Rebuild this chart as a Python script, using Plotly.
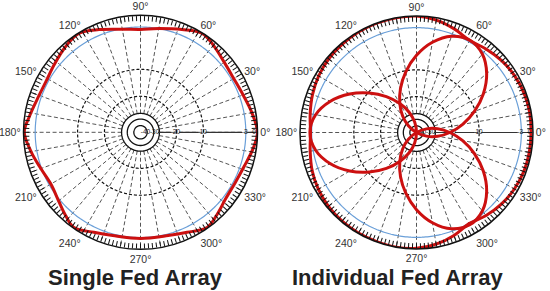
import numpy as np
import plotly.graph_objects as go

# ---- radial scale calibration (dB -> normalized radius, read from the rings) ----
SCALE_DB = [-50, -40, -30, -20, -10, -3, 0]
SCALE_R = [0.0, 0.057, 0.113, 0.308, 0.538, 0.90, 1.0]

RADIAL_TICKS = [-40, -30, -20, -10, -3, 0]
RADIAL_LABELS = ["-40", "-30", "-20", "-10", "-3", "0"]
SOLID_RINGS = [-40, -30, -27.5]
DASHED_RINGS = [-20, -10]
HALF_POWER_RING = -3
ANGLE_LABEL_STEP = 30
ANGLE_TICK_STEP = 2
SPOKE_STEP = 10

TITLES = ["Single Fed Array", "Individual Fed Array"]

# ---- Single fed array pattern (deg, dB) ----
single_theta = [0, 10, 20, 30, 40, 50, 58, 68, 80, 90, 100, 112, 122, 132, 142, 152, 162, 172,
                180, 190, 200, 210, 220, 228, 235, 245, 255, 270, 285, 295, 305, 313, 322, 332,
                342, 352, 360]
single_db = [0.0, -1.0, -2.0, -2.4, -2.0, -0.9, -0.1, -1.6, -3.0, -3.4, -3.1, -1.6, -0.1, -0.9,
             -1.9, -2.5, -2.2, -1.2, -0.2, -1.5, -2.8, -3.3, -2.6, -1.3, -0.2, -1.7, -2.6, -2.8,
             -2.6, -1.7, -0.2, -1.2, -2.3, -2.5, -2.0, -0.8, 0.0]

# ---- Individual fed array: overall envelope (deg, dB) ----
env_theta = [0, 10, 20, 30, 40, 50, 60, 70, 80, 90, 100, 110, 120, 130, 140, 150, 160, 170,
             180, 190, 200, 210, 220, 230, 240, 250, 260, 270, 280, 290, 300, 310, 320, 330,
             340, 350, 360]
env_db = [-0.5, -0.4, -0.5, -0.8, -1.3, -2.0, -2.6, -1.6, -0.6, 0.0, 0.0, 0.0, -0.1, -0.3,
          -0.5, -0.9, -1.5, -2.2, -2.7, -2.2, -1.4, -0.8, -0.4, -0.2, -0.1, -0.1, 0.0, -0.2,
          -0.8, -1.8, -2.9, -2.1, -1.4, -0.9, -0.6, -0.5, -0.5]

# ---- Individual fed array: single element lobe (offset from lobe axis, dB) ----
lobe_offsets = [-90, -80, -70, -60, -50, -40, -30, -20, -10, 0, 10, 20, 30, 40, 50, 60, 70, 80, 90]
lobe_db = [-50, -34, -26.3, -21.1, -15.9, -10.4, -7.6, -5.2, -3.4, -2.55, -3.4, -5.2, -7.6,
           -10.4, -15.9, -21.1, -26.3, -34, -50]
lobe_axes = [60, 180, 300]

RED = "#cc1010"
BLUE = "#6a9fd8"
FONT = "Liberation Sans, Arial, sans-serif"


def rad(db):
    return np.interp(np.asarray(db, float), SCALE_DB, SCALE_R)


fig = go.Figure()
ring_theta = np.linspace(0, 360, 361)
spoke_r0 = float(rad(SOLID_RINGS[-1]))


def add_grid(sub):
    # radial spokes
    th, rr = [], []
    for a in range(0, 360, SPOKE_STEP):
        th += [a, a, None]
        rr += [spoke_r0, 1.0, None]
    fig.add_trace(go.Scatterpolar(theta=th, r=rr, mode="lines", subplot=sub,
                                  line=dict(color="#555555", width=1, dash="4px,2.5px"),
                                  hoverinfo="skip"))
    for db in DASHED_RINGS:
        fig.add_trace(go.Scatterpolar(theta=ring_theta, r=np.full(ring_theta.size, rad(db)),
                                      mode="lines", subplot=sub, hoverinfo="skip",
                                      line=dict(color="#111111", width=1.2, dash="3px,2px")))
    for db in SOLID_RINGS:
        fig.add_trace(go.Scatterpolar(theta=ring_theta, r=np.full(ring_theta.size, rad(db)),
                                      mode="lines", subplot=sub, hoverinfo="skip",
                                      line=dict(color="#111111", width=1.3)))
    fig.add_trace(go.Scatterpolar(theta=ring_theta, r=np.full(ring_theta.size, rad(HALF_POWER_RING)),
                                  mode="lines", subplot=sub, hoverinfo="skip",
                                  line=dict(color=BLUE, width=1.2)))
    # radial axis line with gaps for the labels
    lab_r = rad(RADIAL_TICKS) - 0.01
    lab_r[0] -= 0.004
    lab_r[1] += 0.018
    lab_r[-1] = 0.97
    hw = [0.028, 0.028, 0.033, 0.033, 0.022, 0.016]
    th, rr = [], []
    for i in range(1, len(lab_r) - 1):
        th += [0, 0, None]
        rr += [lab_r[i] + hw[i], lab_r[i + 1] - hw[i + 1], None]
    fig.add_trace(go.Scatterpolar(theta=th, r=rr, mode="lines", subplot=sub, hoverinfo="skip",
                                  line=dict(color="#333333", width=1.2)))
    fig.add_trace(go.Scatterpolar(theta=[0] * len(lab_r), r=lab_r, mode="text", subplot=sub,
                                  text=RADIAL_LABELS, textposition="middle center",
                                  textfont=dict(size=6.5, color="#222222", family=FONT),
                                  hoverinfo="skip"))


add_grid("polar")
add_grid("polar2")

fig.add_trace(go.Scatterpolar(theta=single_theta, r=rad(single_db), mode="lines", subplot="polar",
                              line=dict(color=RED, width=3, shape="spline"), hoverinfo="skip"))

for ax in lobe_axes:
    fig.add_trace(go.Scatterpolar(theta=[ax + o for o in lobe_offsets], r=rad(lobe_db),
                                  mode="lines", subplot="polar2",
                                  line=dict(color=RED, width=3, shape="spline"), hoverinfo="skip"))
fig.add_trace(go.Scatterpolar(theta=env_theta, r=rad(env_db), mode="lines", subplot="polar2",
                              line=dict(color=RED, width=3, shape="spline"), hoverinfo="skip"))

tickvals = list(range(0, 360, ANGLE_TICK_STEP))
ticktext = [f"{v}°" if v % ANGLE_LABEL_STEP == 0 else "" for v in tickvals]


def polar_layout(xd, yd):
    return dict(
        domain=dict(x=xd, y=yd), bgcolor="white",
        radialaxis=dict(range=[0, 1], visible=False),
        angularaxis=dict(tickmode="array", tickvals=tickvals, ticktext=ticktext,
                         ticks="inside", ticklen=5, tickwidth=1, tickcolor="#111111",
                         showline=True, linecolor="#111111", linewidth=1.5, showgrid=False,
                         rotation=0, direction="counterclockwise",
                         tickfont=dict(size=10.5, color="#333333", family=FONT)),
    )


W, H = 550, 291
def dom(cx, cy, R):
    return [(cx - R) / W, (cx + R) / W], [(H - cy - R) / H, (H - cy + R) / H]

x1, y1 = dom(140.5, 132.3, 117)
x2, y2 = dom(416.5, 132.5, 116.5)

fig.update_layout(
    width=W, height=H, margin=dict(l=0, r=0, t=0, b=0),
    paper_bgcolor="white", showlegend=False,
    polar=polar_layout(x1, y1), polar2=polar_layout(x2, y2),
    annotations=[
        dict(text=TITLES[0], x=135 / W, y=(H - 277) / H, xref="paper", yref="paper",
             xanchor="center", yanchor="middle", showarrow=False,
             font=dict(size=22, color="#222222", family=FONT, weight="bold")),
        dict(text=TITLES[1], x=397 / W, y=(H - 277) / H, xref="paper", yref="paper",
             xanchor="center", yanchor="middle", showarrow=False,
             font=dict(size=22, color="#222222", family=FONT, weight="bold")),
    ],
)

fig.write_html("out.html")
